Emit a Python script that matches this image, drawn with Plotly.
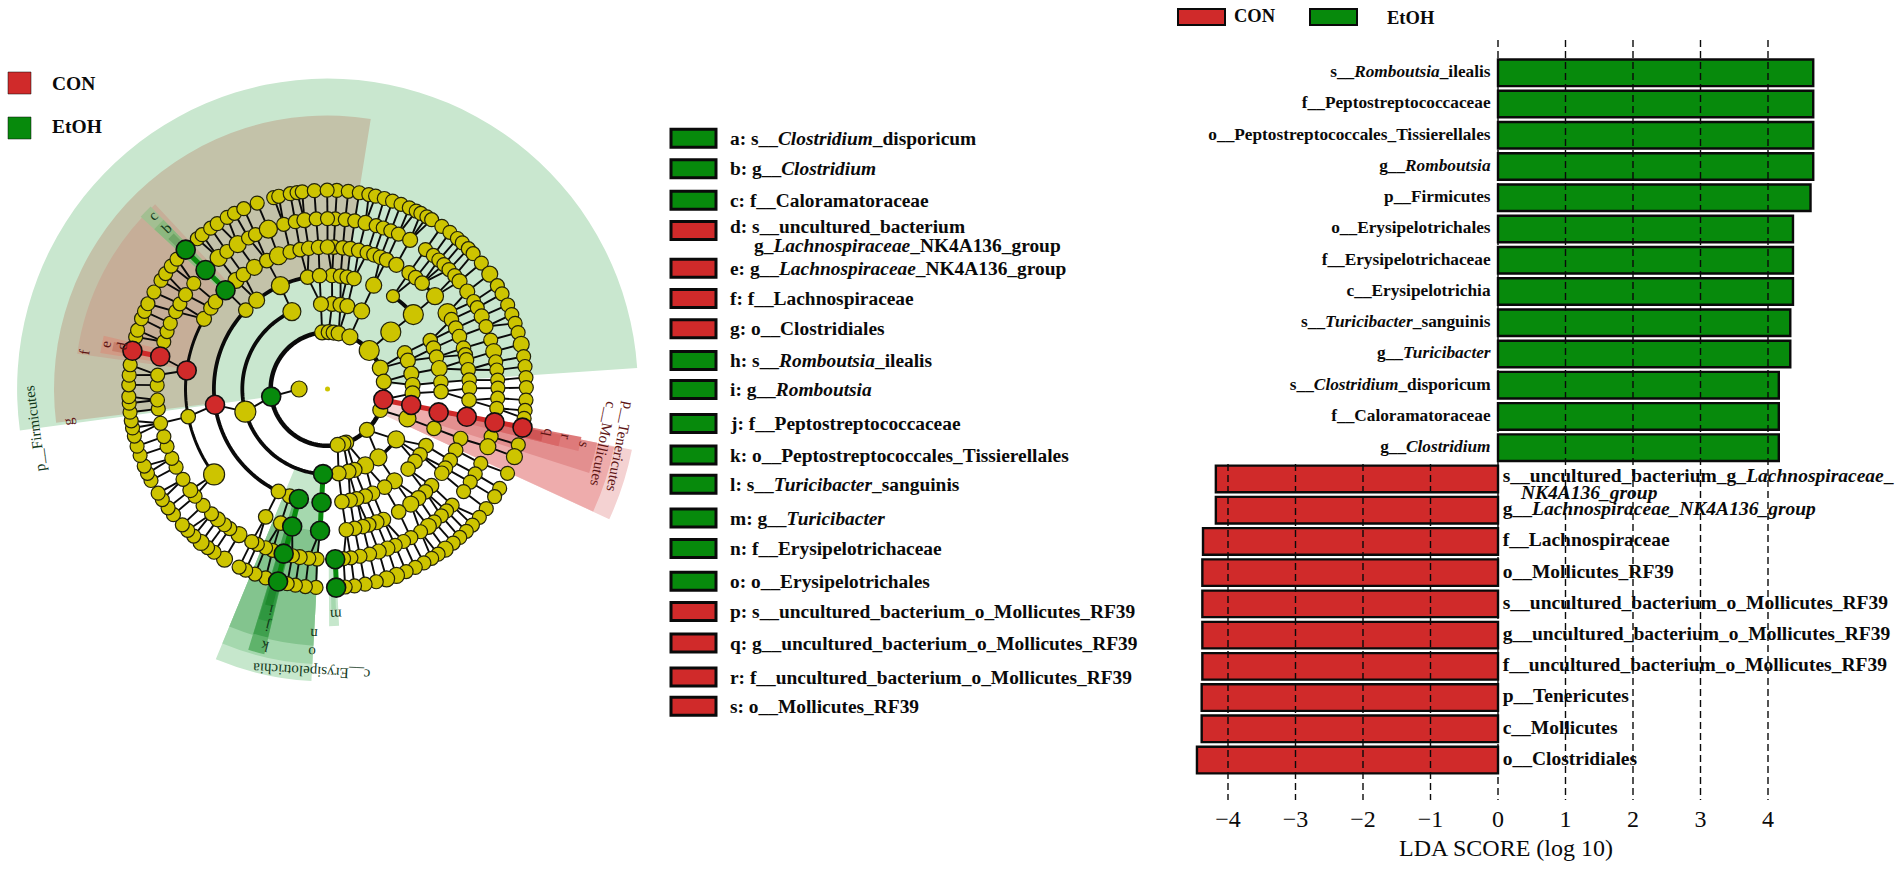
import numpy as np
import plotly.graph_objects as go

W, H = 1902, 870
SERIF = "Liberation Serif"
RED, GREEN, YELLOW = "#d02a2a", "#078a0c", "#cdc400"
MAROON, DKGREEN = "#5e1414", "#12381a"

# ---------- LDA bars ----------
bar_labels = ["s__<i>Romboutsia</i>_ilealis", "f__Peptostreptococcaceae", "o__Peptostreptococcales_Tissierellales",
              "g__<i>Romboutsia</i>", "p__Firmicutes", "o__Erysipelotrichales", "f__Erysipelotrichaceae",
              "c__Erysipelotrichia", "s__<i>Turicibacter</i>_sanguinis", "g__<i>Turicibacter</i>",
              "s__<i>Clostridium</i>_disporicum", "f__Caloramatoraceae", "g__<i>Clostridium</i>",
              "s__uncultured_bacterium_g_<i>Lachnospiraceae</i>_", "g__<i>Lachnospiraceae_NK4A136_group</i>",
              "f__Lachnospiraceae", "o__Mollicutes_RF39", "s__uncultured_bacterium_o_Mollicutes_RF39",
              "g__uncultured_bacterium_o_Mollicutes_RF39", "f__uncultured_bacterium_o_Mollicutes_RF39",
              "p__Tenericutes", "c__Mollicutes", "o__Clostridiales"]
bar_values = [4.67, 4.67, 4.67, 4.67, 4.63, 4.37, 4.37, 4.37, 4.33, 4.33, 4.16, 4.16, 4.16,
              -4.18, -4.18, -4.37, -4.38, -4.38, -4.38, -4.38, -4.39, -4.39, -4.46]
x_ticks = [-4, -3, -2, -1, 0, 1, 2, 3, 4]
x_tick_text = ["−4", "−3", "−2", "−1", "0", "1", "2", "3", "4"]

# ---------- taxon key ----------
key_letters = list("abcdefghijklmnopqrs")
key_names = ["s__<i>Clostridium</i>_disporicum", "g__<i>Clostridium</i>", "f__Caloramatoraceae",
             "s__uncultured_bacterium", "g__<i>Lachnospiraceae</i>_NK4A136_group", "f__Lachnospiraceae",
             "o__Clostridiales", "s__<i>Romboutsia</i>_ilealis", "g__<i>Romboutsia</i>", "f__Peptostreptococcaceae",
             "o__Peptostreptococcales_Tissierellales", "s__<i>Turicibacter</i>_sanguinis", "g__<i>Turicibacter</i>",
             "f__Erysipelotrichaceae", "o__Erysipelotrichales", "s__uncultured_bacterium_o_Mollicutes_RF39",
             "g__uncultured_bacterium_o_Mollicutes_RF39", "f__uncultured_bacterium_o_Mollicutes_RF39",
             "o__Mollicutes_RF39"]
key_groups = ["E", "E", "E", "C", "C", "C", "C", "E", "E", "E", "E", "E", "E", "E", "E", "C", "C", "C", "C"]

# ---------- cladogram: node angles (degrees) on each ring ----------
ring1 = [180]
ring2 = [95.4, 88.8, 83.8, 78.7, 66.8, 42.7, 21.6, 7.4, -10.7, -21.7, -46.1, -70.8, -73.7, -79.7, -172.3]
ring3 = [86.9, 81.2, 76.5, 66.4, 42, 24.9, 19.4, 10.3, 2.7, -2.9, -10.8, -20.2, -36.3, -53.3, -63.7, -71.5,
         -75.7, -82.5, -93, -164.6, 114.7, 94.4]
ring4 = [87.7, 83.4, 80, 76.5, 66, 54.8, 40.9, 25.2, 21.1, 16.3, 10.4, 3.4, -1.3, -11.9, -20.3, -29.9, -35.4,
         -39.6, -44.8, -53.9, -59.8, -66.6, -70.6, -75.1, -78.5, -82.7, -93, -104.6, -109.5, -115.6, -172,
         136, 128.6, 114.5, 100.1, 94]
ring5 = [87.5, 83.8, 80.7, 77.3, 73.7, 70.9, 68.1, 65.4, 61, 54.9, 51.6, 48.2, 40.8, 32.3, 29.2, 25.4, 21.7,
         16.7, 13.9, 11.8, 7.8, 3.6, 0.3, -4.5, -11.3, -20.4, -25.5, -30.2, -33.9, -36.4, -42.9, -46.4, -50.2,
         -54.1, -59.9, -66.8, -69.8, -73.1, -75.6, -79, -82.4, -93, -104.4, -109.2, -115.8, -143, -168.8,
         172.5, 150.4, 145.2, 142.1, 135.9, 130.1, 126.3, 121, 115.3, 110.2, 105.2, 101.1, 97.6, 93.6, 90]
ring6 = [87.4, 84, 80.8, 77.1, 73.4, 70.9, 68.2, 65.4, 61, 54.9, 51.6, 49.2, 46.9, 44.5, 41.7, 39.2, 34.9, 30.9,
         28.5, 25.2, 21.5, 16.7, 12.7, 9.2, 6.4, 3, 0.3, -3.1, -6.5, -11.3, -16.2, -19.8, -25.9, -29.9, -33.1,
         -37, -43, -45.7, -48.1, -51.2, -53.7, -56.9, -60.7, -63.5, -66.6, -69.4, -72.5, -75.7, -79, -82.1,
         -84.6, -87.4, -93.5, -96.3, -99.4, -101.9, -104.9, -108.8, -111.3, -114.3, -116.4, -121.3, -125,
         -127.2, -130.1, -132.9, -136.9, -141, -143.6, -148, -152.7, -156, -160.3, -163.8, -168.4, -173.3,
         -176.3, 178.7, 175.3, 169, 163.9, 160.3, 157.3, 153, 150, 146.4, 141.7, 135.7, 129.7, 126.2, 121.8,
         117.6, 115, 110.3, 104.9, 100.9, 97.8, 93.8, 90]
ring7 = [87.3, 84, 80.8, 78, 76, 73.4, 70.9, 68.3, 65.7, 63.5, 62, 60, 58.4, 54.9, 52, 49.2, 47.3, 44.9, 42.9,
         39.3, 35.3, 31.3, 28.6, 25, 22, 19.3, 16.5, 13, 9.4, 6.5, 3.3, 0.4, -3.2, -6.2, -8.5, -11.2, -16.3,
         -19.9, -25.1, -30, -32.8, -37, -40.2, -43.2, -45.7, -48.3, -50.8, -53.7, -56.2, -58.4, -61, -63.8,
         -66.7, -69.7, -72.7, -75.8, -79.1, -82.2, -84.9, -87.5, -93.3, -96.4, -99.3, -101.7, -104.4, -108.1,
         -111.4, -114.3, -116.4, -121.2, -124.8, -127.1, -129.5, -132.3, -134.7, -136.9, -140.8, -143.3,
         -146.2, -148.4, -152.6, -154.9, -157.2, -160.5, -163.3, -166.3, -168.7, -170.8, -173.3, -175.9,
         -177.8, 178.8, 176, 173, 168.9, 164.8, 162.8, 159.3, 157, 154.6, 150.8, 146.9, 144.5, 141.8, 139.2,
         135.5, 130.9, 129.1, 126, 123.7, 120.3, 117.9, 114.9, 110.7, 105.7, 104.2, 100.8, 98.8, 97.3, 93.8,
         90.1]
rings = {1: ring1, 2: ring2, 3: ring3, 4: ring4, 5: ring5, 6: ring6, 7: ring7}

# larger circles (abundance-scaled), by ring and angle
large_nodes = {
    2: {42.7: 20, 66.8: 16, 21.6: 16},
    3: {42: 20, 66.4: 16, -63.7: 17, -53.3: 17, -36.3: 17, -164.6: 21, -20.2: 17, 114.7: 18},
    4: {40.9: 20, 66: 16, 54.8: 13, 114.5: 18, 10.4: 16, -53.9: 16, 128.6: 16},
    5: {32.3: 19, 40.8: 17, -143: 21, 150.4: 15, 130.1: 16, 121: 16, 110.2: 18, 61: 15, 80.7: 15, -50.2: 15,
        -54.1: 16, -69.8: 15},
    6: {61: 15, 39.2: 15, 34.9: 15, 25.2: 15, 12.7: 16, -19.8: 16, -53.7: 16, -69.4: 15, -72.5: 15, -99.4: 15,
        -121.3: 16, -130.1: 15, -143.6: 15, 129.7: 17, 121.8: 17, 110.3: 18, 97.8: 15, 77.1: 15},
    7: {35.3: 16, 13: 16, -19.9: 16, -53.7: 16, -69.7: 16, -72.7: 16, -121.2: 16, -129.5: 16},
}
green_nodes = {2: [-172.3], 3: [-93], 4: [-93, -104.6], 5: [135.9, -93, -104.4], 6: [135.7, -87.4, -104.9],
               7: [135.5, -87.5, -104.4]}
red_nodes = {2: [-10.7], 3: [-10.8], 4: [-11.9, -172], 5: [172.5, -11.3], 6: [169, -11.3], 7: [168.9, -11.2]}

# clade arcs: ring, first angle, last angle
arc_rings = [2, 3, 4, 5, 4, 3, 5]
arc_from = [-180, 114.7, 100.1, 150.4, 40.9, -53.3, 40.8]
arc_to = [180, 267, 244.4, 217, 54.8, -36.3, 54.9]
arc_px = [4.5, 3.8, 3.8, 3, 3.8, 3.5, 3]

# highlighted branches: ring start, ring end, angle
green_links = [(5, 7, 135.7), (3, 5, -93), (6, 7, -87.4), (4, 7, -104.6)]
red_links = [(2, 7, -11.1), (6, 7, 169)]

# shaded clades: inner ring, outer ring, centre angle, span, colour
band_base = [2, 4, 5, 6, 7, 5, 6, 7,
             2, 3, 4, 5, 6, 7,
             3, 4, 5, 4, 5, 6, 7, 6, 7]
band_top = [10.93, 9.63, 8.9, 8.1, 7.7, 8.95, 8.3, 7.7,
            10.93, 10.3, 9.68, 9.1, 8.38, 7.75,
            10.3, 9.7, 9.05, 9.6, 9.0, 8.45, 7.9, 8.35, 7.75]
band_theta = [95.8, 134, 152.5, 168.8, 168.8, 135.7, 135.7, 135.7,
              -18.05, -18.1, -14.55, -12.3, -12.5, -12.4,
              -102.8, -102.8, -102.8, -105.15, -105.15, -105.15, -105.15, -88.4, -88.4]
band_span = [183.8, 106.2, 39, 4.4, 2.4, 3.2, 3.2, 2,
             13.5, 13.3, 6.5, 3.2, 2.8, 2.5,
             19.3, 19.3, 19.3, 3.5, 3.4, 3, 2, 2.4, 1.2]
band_color = ["#c9e7cf", "#c3c2a9", "#c6ae98", "#d19a85", "#c77f6b", "#a3bf92", "#8cb87f", "#6fa566",
              "#f4d2d2", "#eeacac", "#e38f8f", "#de7a7a", "#d96868", "#cf5555",
              "#c6e7cc", "#a5d8ae", "#83c48e", "#5fb36b", "#3fa04e", "#2f9740", "#1f8a2e", "#c6e7cc", "#a5d8ae"]

# clade letters and names placed along the shading
tag_text = ["p__Firmicutes", "g", "f", "e", "d", "c", "b",
            "p__Tenericutes", "c__Mollicutes", "s", "r", "q",
            "c__Erysipelotrichia", "o", "n", "m", "k", "j", "i"]
tag_ring = [10.4, 9.2, 8.65, 7.97, 7.4, 8.64, 8.0,
            10.52, 9.9, 9.25, 8.58, 7.97,
            9.97, 9.3, 8.64, 7.96, 9.32, 8.63, 8.03]
tag_angle = [187.6, 187.1, 171.4, 168.5, 168.2, 135, 135,
             -11.3, -11.3, -12.3, -11.3, -11.1,
             -93.3, -93.4, -93.3, -87.9, -103.8, -104.1, -104.2]
tag_dark = ["G", "M", "M", "M", "M", "G", "G", "M", "M", "M", "M", "M", "G", "G", "G", "G", "G", "G", "G"]

# ---------- page geometry ----------
CX, CY, STEP, RMAX = 327.5, 389.0, 28.4, 11.5
X0_PX, UNIT_PX = 1498.0, 67.5
ROW0_PX, ROW_PX = 72.8, 31.24
PLOT_L, PLOT_R, PLOT_T, PLOT_B = 1116.0, 1896.0, 40.0, 800.0


def px(x):
    return x / W


def py(y):
    return 1 - y / H


def angdiff(a, b):
    return abs((a - b + 180) % 360 - 180)


fig = go.Figure()

# shading
for b, t, th, sp, c in zip(band_base, band_top, band_theta, band_span, band_color):
    fig.add_trace(go.Barpolar(r=[t - b], base=[b], theta=[th], width=[sp], marker=dict(color=c, line=dict(width=0)),
                              subplot="polar", hoverinfo="skip", showlegend=False))

# spokes: each node to the closest node one ring in
reach = {2: 10, 3: 12, 4: 8, 5: 4, 6: 4, 7: 6}
st, sr = [], []
for k in range(2, 8):
    for a in rings[k]:
        p = min(rings[k - 1], key=lambda q: angdiff(a, q))
        if angdiff(a, p) <= reach[k]:
            st += [a, p, None]
            sr += [k, k - 1, None]
fig.add_trace(go.Scatterpolar(r=sr, theta=st, mode="lines", line=dict(color="#0a0a0a", width=1.9),
                              subplot="polar", hoverinfo="skip", showlegend=False))

# arcs
for k, a0, a1, w in zip(arc_rings, arc_from, arc_to, arc_px):
    th = np.linspace(a0, a1, max(2, int((a1 - a0) / 2) + 1))
    fig.add_trace(go.Scatterpolar(r=[k] * len(th), theta=th, mode="lines", line=dict(color="#0a0a0a", width=w),
                                  subplot="polar", hoverinfo="skip", showlegend=False))

# highlighted branches
for links, col in ((green_links, GREEN), (red_links, RED)):
    lt, lr = [], []
    for k0, k1, a in links:
        lt += [a, a, None]
        lr += [k0, k1, None]
    fig.add_trace(go.Scatterpolar(r=lr, theta=lt, mode="lines", line=dict(color=col, width=5),
                                  subplot="polar", hoverinfo="skip", showlegend=False))

# nodes
default_size = {1: 16, 2: 15, 3: 15, 4: 14.5, 5: 14.5, 6: 14, 7: 14}
for k in range(1, 8):
    plain = [a for a in rings[k] if a not in green_nodes.get(k, []) and a not in red_nodes.get(k, [])]
    sizes = [large_nodes.get(k, {}).get(a, default_size[k]) for a in plain]
    fig.add_trace(go.Scatterpolar(r=[k] * len(plain), theta=plain, mode="markers",
                                  marker=dict(color=YELLOW, size=sizes, opacity=1,
                                              line=dict(color="#23230a", width=1.2)),
                                  subplot="polar", hoverinfo="skip", showlegend=False))
for table, col in ((green_nodes, GREEN), (red_nodes, RED)):
    tr, tt = [], []
    for k, angs in table.items():
        tr += [k] * len(angs)
        tt += angs
    fig.add_trace(go.Scatterpolar(r=tr, theta=tt, mode="markers",
                                  marker=dict(color=col, size=19, opacity=1, line=dict(color="#101010", width=1.6)),
                                  subplot="polar", hoverinfo="skip", showlegend=False))
fig.add_trace(go.Scatterpolar(r=[0], theta=[0], mode="markers", marker=dict(color=YELLOW, size=5),
                              subplot="polar", hoverinfo="skip", showlegend=False))

# LDA bars
rows = list(range(len(bar_values)))
fig.add_trace(go.Bar(x=bar_values, y=rows, orientation="h", width=0.85,
                     marker=dict(color=[GREEN if v > 0 else RED for v in bar_values],
                                 line=dict(color="#0a0a0a", width=2.4)),
                     hoverinfo="skip", showlegend=False))
ymin_row = (PLOT_T - ROW0_PX) / ROW_PX
ymax_row = (PLOT_B - ROW0_PX) / ROW_PX
gx, gy = [], []
for t in x_ticks:
    gx += [t, t, None]
    gy += [12.52 if t < 0 else ymin_row, ymax_row, None]
fig.add_trace(go.Scatter(x=gx, y=gy, mode="lines", line=dict(color="#0a0a0a", width=1.4, dash="7px,4px"),
                         hoverinfo="skip", showlegend=False))
UP_FONT = dict(family=SERIF, size=17.3, color="#0a0a0a", weight=700)
DN_FONT = dict(family=SERIF, size=19.5, color="#0a0a0a", weight=700)
up = [i for i, v in enumerate(bar_values) if v > 0]
dn = [i for i, v in enumerate(bar_values) if v < 0]
fig.add_trace(go.Scatter(x=[-0.11] * len(up), y=up, text=[bar_labels[i] for i in up], mode="text",
                         textposition="middle left", textfont=UP_FONT, hoverinfo="skip", showlegend=False))
fig.add_trace(go.Scatter(x=[0.07] * len(dn), y=[i - 0.07 if i == 13 else i for i in dn],
                         text=[bar_labels[i] for i in dn], mode="text",
                         textposition="middle right", textfont=DN_FONT, hoverinfo="skip", showlegend=False))
fig.add_trace(go.Scatter(x=[0.34], y=[13.5], text=["<i>NK4A136_group</i>"], mode="text",
                         textposition="middle right", textfont=DN_FONT, hoverinfo="skip", showlegend=False))

shapes, ann = [], []


def text(x, y, s, size, anchor="left", **kw):
    ann.append(dict(x=px(x), y=py(y), xref="paper", yref="paper", text=s, showarrow=False, xanchor=anchor,
                    yanchor="middle", font=dict(family=SERIF, size=size, color=kw.pop("color", "#0a0a0a")), **kw))


def swatch(x0, y0, x1, y1, col, lw):
    shapes.append(dict(type="rect", xref="paper", yref="paper", x0=px(x0), x1=px(x1), y0=py(y0), y1=py(y1),
                       fillcolor=col, line=dict(color="#0a0a0a", width=lw)))


# top-left legend
swatch(8, 72, 31, 94, RED, 0.5)
swatch(8, 117, 31, 139, GREEN, 0.5)
text(50, 83, "<b>CON</b>", 19.5)
text(50, 126, "<b>EtOH</b>", 19.5)

# top-right legend
swatch(1178, 9, 1225, 25, RED, 2)
swatch(1310, 9, 1357, 25, GREEN, 2)
text(1232, 16, "<b>CON</b>", 18.5)
text(1385, 18, "<b>EtOH</b>", 18.5)

# key list
key_rows = [114, 139, 165, 190, 221, 246, 271, 297, 321, 349, 375, 399, 427, 452, 479, 504, 530, 558, 582]
for L, name, g, r in zip(key_letters, key_names, key_groups, key_rows):
    yy = r * H / 717
    swatch(671, yy - 9, 716, yy + 9, GREEN if g == "E" else RED, 3)
    ty = yy - 4 if L == "d" else yy
    text(728, ty, f"<b>{L}: {name}</b>", 19.4)
    if L == "d":
        text(752, ty + 19, "<b>g_<i>Lachnospiraceae</i>_NK4A136_group</b>", 19.4)

# clade tags
for s, r, a, d in zip(tag_text, tag_ring, tag_angle, tag_dark):
    x = CX + r * STEP * np.cos(np.radians(a))
    y = CY - r * STEP * np.sin(np.radians(a))
    text(x, y, s, 15, anchor="center", textangle=90 - a, color=DKGREEN if d == "G" else MAROON)

fig.update_layout(
    width=W, height=H, margin=dict(l=0, r=0, t=0, b=0), paper_bgcolor="white", plot_bgcolor="rgba(0,0,0,0)",
    barmode="overlay", showlegend=False, shapes=shapes, annotations=ann,
    xaxis=dict(domain=[px(PLOT_L), px(PLOT_R)], range=[(PLOT_L - X0_PX) / UNIT_PX, (PLOT_R - X0_PX) / UNIT_PX],
               tickmode="array", tickvals=x_ticks, ticktext=x_tick_text, showgrid=False, zeroline=False,
               showline=False, ticks="", ticklabelstandoff=2, tickfont=dict(family=SERIF, size=24, color="#0a0a0a"),
               title=dict(text="LDA SCORE (log 10)", font=dict(family=SERIF, size=24, color="#0a0a0a"), standoff=8)),
    yaxis=dict(domain=[py(PLOT_B), py(PLOT_T)], range=[ymax_row, ymin_row], visible=False),
    polar=dict(domain=dict(x=[px(CX - RMAX * STEP), px(CX + RMAX * STEP)],
                           y=[py(CY + RMAX * STEP), py(CY - RMAX * STEP)]),
               bgcolor="rgba(0,0,0,0)", barmode="overlay",
               radialaxis=dict(visible=False, range=[0, RMAX]),
               angularaxis=dict(visible=False, direction="counterclockwise", rotation=0)),
)
fig.write_html("out.html", post_script="document.body.style.margin='0';", config={"displayModeBar": False})
